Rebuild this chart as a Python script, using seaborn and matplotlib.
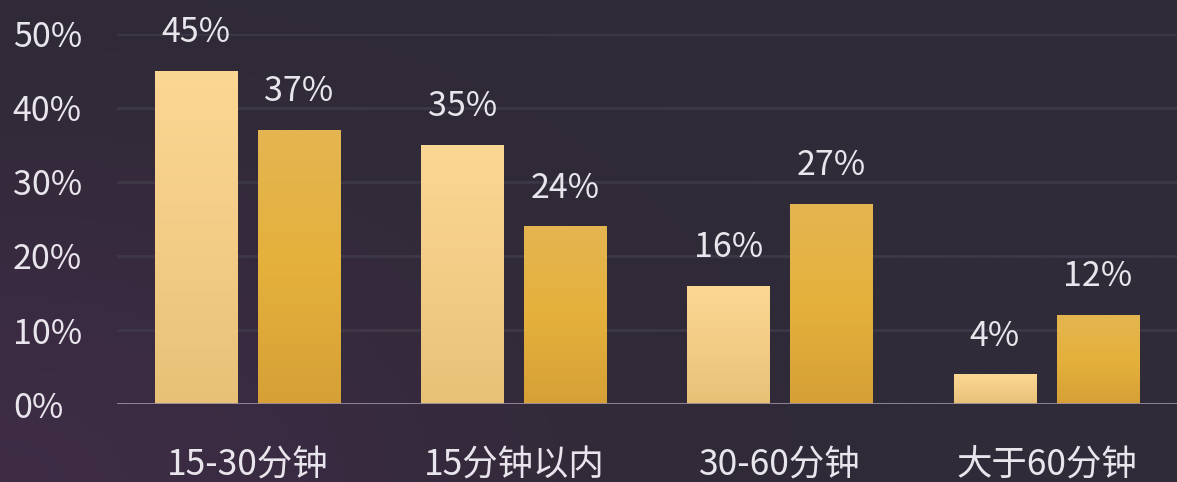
import numpy as np
import pandas as pd
import matplotlib
matplotlib.use("Agg")
import matplotlib.pyplot as plt
import seaborn as sns
from matplotlib.colors import LinearSegmentedColormap

# Commute-time share per group (percent)
categories = ["15-30分钟", "15分钟以内", "30-60分钟", "大于60分钟"]
group_names = ["组一", "组二"]
group_one = [45, 35, 16, 4]
group_two = [37, 24, 27, 12]
y_ticks = [0, 10, 20, 30, 40, 50]
y_tick_labels = ["0%", "10%", "20%", "30%", "40%", "50%"]

df = pd.DataFrame({
    "时长": categories * 2,
    "占比": group_one + group_two,
    "组": [group_names[0]] * len(categories) + [group_names[1]] * len(categories),
})

sns.set_theme(style="dark")
plt.rcParams["font.family"] = ["Noto Sans CJK SC", "DejaVu Sans"]

TEXT = "#e9e5ec"
fig = plt.figure(figsize=(11.77, 4.82), dpi=100)

# dark backdrop with a purple glow from the lower-left corner
bg = fig.add_axes([0, 0, 1, 1], zorder=-10)
bg_cmap = LinearSegmentedColormap.from_list(
    "bg", ["#3f2d46", "#392b41", "#322a39", "#2f2b38"])
gx, gy = np.meshgrid(np.linspace(0, 11.77, 400), np.linspace(0, 4.82, 160))
dist = np.sqrt(gx ** 2 + (gy * 1.6) ** 2)
bg.imshow(np.clip(dist / 9.0, 0, 1), cmap=bg_cmap, aspect="auto",
          origin="lower", extent=[0, 1, 0, 1], vmin=0, vmax=1)
bg.set_axis_off()

ax = fig.add_axes([0.0994, 0.1618, 0.9006, 0.7677])
ax.set_facecolor("none")

sns.barplot(data=df, x="时长", y="占比", hue="组", ax=ax,
            palette=["#f4cf88", "#e2ae40"], saturation=1, gap=0.2,
            width=0.775, legend=False, errorbar=None, zorder=3)

# vertical gradients inside each bar
grads = [
    LinearSegmentedColormap.from_list("g1", ["#e7c176", "#f3cd86", "#fbd794"]),
    LinearSegmentedColormap.from_list("g2", ["#d6a036", "#e5b13b", "#e4b551"]),
]
ramp = np.linspace(0, 1, 256).reshape(-1, 1)
n = len(categories)
for i, patch in enumerate(list(ax.patches)):
    x0, y0 = patch.get_x(), patch.get_y()
    w, h = patch.get_width(), patch.get_height()
    if h <= 0:
        continue
    im = ax.imshow(ramp, cmap=grads[i // n], aspect="auto", origin="lower",
                   extent=[x0, x0 + w, y0, y0 + h], zorder=4)
    im.set_clip_path(patch)
    patch.set_edgecolor("none")
    vals = group_one if i // n == 0 else group_two
    ax.annotate(f"{vals[i % n]}%", (x0 + w / 2, y0 + h), xytext=(0, 15),
                textcoords="offset points", ha="center", va="bottom",
                color=TEXT, fontsize=24.5, zorder=6, annotation_clip=False)

ax.set_xlim(-0.49, 3.49)
ax.set_ylim(0, 50)

ax.set_yticks(y_ticks)
ax.set_yticklabels(y_tick_labels)
ax.grid(axis="y", color="#3d3847", linewidth=2)
ax.grid(axis="x", visible=False)
ax.axhline(0, color="#958a9e", linewidth=2, zorder=5)
for s in ax.spines.values():
    s.set_visible(False)

ax.tick_params(axis="y", length=0, pad=75, labelsize=24.5, labelcolor=TEXT)
ax.tick_params(axis="x", length=0, pad=31, labelsize=25.5, labelcolor=TEXT)
for lbl in ax.get_yticklabels():
    lbl.set_horizontalalignment("left")
ax.set_xlabel("")
ax.set_ylabel("")

fig.savefig("out.png", dpi=100)
